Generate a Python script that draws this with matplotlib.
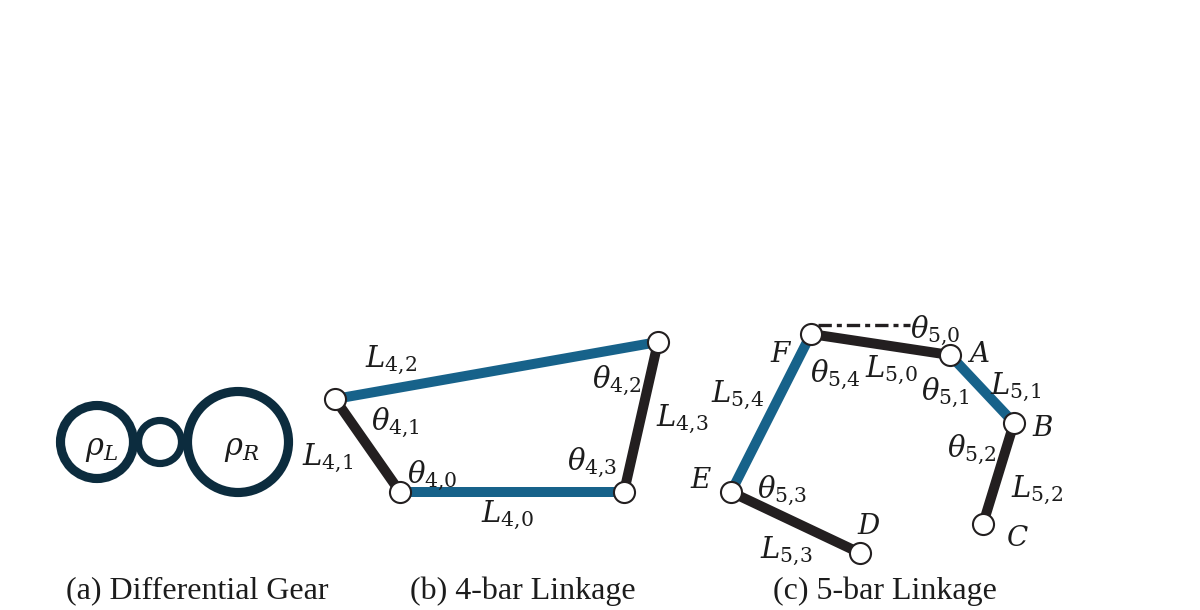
import matplotlib
matplotlib.use("Agg")
import matplotlib.pyplot as plt
from matplotlib.patches import Circle

plt.rcParams['mathtext.fontset'] = 'dejavuserif'

BLUE = "#17628a"
BLACK = "#231f20"
NAVY = "#0c2c3e"

# ----- Gears (centre x, centre y, mid radius, ring width) -----
gear_x = [97, 160, 238]
gear_y = [442, 442, 442]
gear_r = [36.5, 21.5, 50.5]
gear_w = [6.6, 5.2, 6.6]
gear_labels = [(r"$\rho_L$", 102, 449), (r"$\rho_R$", 242, 449)]

# ----- 4-bar linkage -----
nodes4_x = [400, 335, 658, 624]
nodes4_y = [492, 399, 342, 492]
links4 = [(0, 1, BLACK), (1, 2, BLUE), (2, 3, BLACK), (3, 0, BLUE)]
labels4 = [
    (r"$L_{4{,}2}$", 391, 360), (r"$L_{4{,}1}$", 328, 458), (r"$L_{4{,}0}$", 507, 515),
    (r"$L_{4{,}3}$", 682, 419), (r"$\theta_{4{,}1}$", 395, 423), (r"$\theta_{4{,}0}$", 432, 476),
    (r"$\theta_{4{,}2}$", 617, 381), (r"$\theta_{4{,}3}$", 592, 463),
]

# ----- 5-bar linkage: A B C D E F -----
nodes5_x = [950, 1014, 983, 860, 731, 811]
nodes5_y = [355, 423, 524, 553, 492, 334]
links5 = [(5, 0, BLACK), (0, 1, BLUE), (1, 2, BLACK), (4, 3, BLACK), (5, 4, BLUE)]
labels5 = [
    (r"$L_{5{,}0}$", 891, 370), (r"$L_{5{,}1}$", 1016, 387), (r"$L_{5{,}2}$", 1037, 490),
    (r"$L_{5{,}3}$", 786, 551), (r"$L_{5{,}4}$", 738, 395), (r"$\theta_{5{,}0}$", 935, 331),
    (r"$\theta_{5{,}1}$", 945, 393), (r"$\theta_{5{,}2}$", 972, 450), (r"$\theta_{5{,}3}$", 782, 491),
    (r"$\theta_{5{,}4}$", 835, 375),
]
letters = [
    ("A", 979, 355), ("B", 1043, 428), ("C", 1018, 538), ("D", 869, 527),
    ("E", 701, 480), ("F", 780, 354),
]

# Reference line above the link F-A
ref_x = [818, 910]
ref_y = [325, 325]

captions = [
    ("(a) Differential Gear", 197, 591), ("(b) 4-bar Linkage", 523, 591),
    ("(c) 5-bar Linkage", 885, 591),
]

fig = plt.figure(figsize=(12, 6.1), dpi=100)
ax = fig.add_axes([0, 0, 1, 1])
ax.set_xlim(0, 1200)
ax.set_ylim(610, 0)
ax.axis("off")

for x, y, r, w in zip(gear_x, gear_y, gear_r, gear_w):
    ax.add_patch(Circle((x, y), r, fill=False, ec=NAVY, lw=w, zorder=2))


def draw_linkage(xs, ys, links):
    for a, b, color in links:
        ax.plot([xs[a], xs[b]], [ys[a], ys[b]], color=color, lw=7.2,
                solid_capstyle="butt", zorder=2)
    ax.scatter(xs, ys, s=230, facecolor="white", edgecolor=BLACK, linewidth=1.5, zorder=3)


draw_linkage(nodes4_x, nodes4_y, links4)
draw_linkage(nodes5_x, nodes5_y, links5)
ax.plot(ref_x, ref_y, color=BLACK, lw=2.4, ls=(0, (4, 1.5, 1.5, 1.5)), zorder=1)

for text, x, y in labels4 + labels5:
    ax.text(x, y, text, fontsize=21, ha="center", va="center", color="#1c1c1c", zorder=4)
for text, x, y in gear_labels:
    ax.text(x, y, text, fontsize=22, ha="center", va="center", color="#1c1c1c", zorder=4)
for text, x, y in letters:
    ax.text(x, y, text, fontsize=20, style="italic", family="DejaVu Serif",
            ha="center", va="center", color="#1c1c1c", zorder=4)
for text, x, y in captions:
    ax.text(x, y, text, fontsize=23, family="Liberation Serif",
            ha="center", va="center", color="#1c1c1c")

fig.savefig("out.png", dpi=100)
